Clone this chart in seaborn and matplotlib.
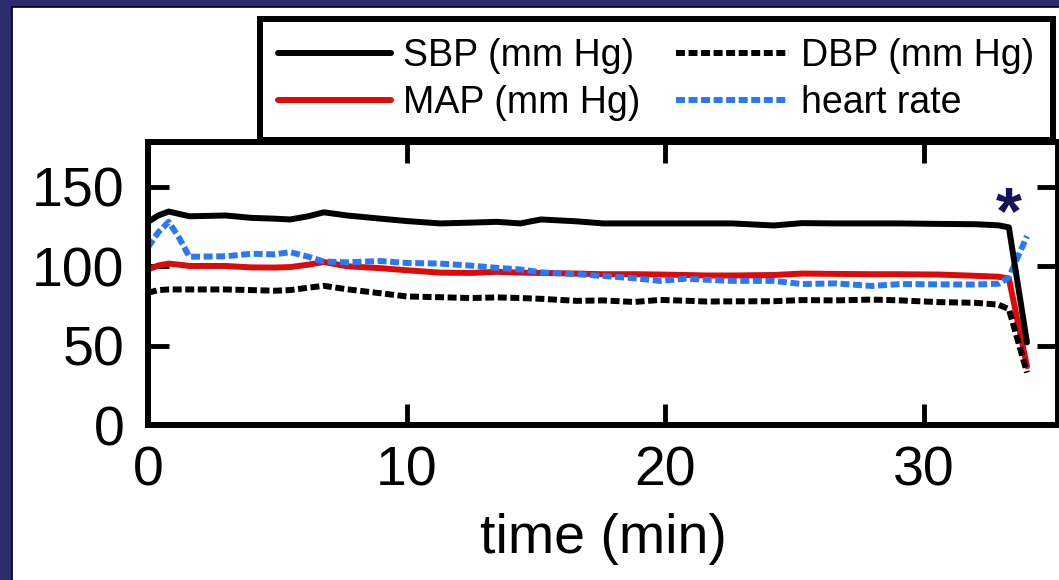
import numpy as np
import pandas as pd
import matplotlib
matplotlib.use("Agg")
import matplotlib.pyplot as plt
from matplotlib.patches import Rectangle
import seaborn as sns

# ---- data ----
time_min = [0, 0.4, 0.8, 1.2, 1.6, 3.0, 4.0, 4.9, 5.5, 6.2, 6.8, 7.7, 9.0, 10.0,
            11.3, 12.5, 13.5, 14.4, 15.2, 16.6, 17.6, 18.8, 19.8, 20.8, 21.6,
            22.6, 24.2, 25.3, 26.6, 28.0, 29.1, 30.6, 32.0, 32.9, 33.3, 34.0]
sbp = [128, 132, 134.5, 133, 131.5, 132, 130.5, 130, 129.5, 131.5, 134, 132,
       130, 128.5, 127, 127.5, 128, 127, 129.5, 128.3, 127, 127, 127, 127, 127,
       127, 125.7, 127.2, 127, 127, 127, 126.7, 126.5, 125.8, 124.5, 52]
map_ = [98, 100.5, 101.7, 101, 100.2, 100.2, 99.3, 99.2, 99.5, 101, 102.7, 100,
        98.8, 97.5, 96, 95.8, 96.5, 96, 95.8, 95.4, 95, 95, 94.8, 94.5, 94.2,
        94.2, 94.5, 95.4, 95.2, 95, 95, 94.8, 94, 93.4, 92.3, 37]
dbp = [83.3, 85, 85.4, 85.4, 85.4, 85.4, 85, 84.6, 85, 86.5, 87.7, 85.5, 83,
       81, 80.5, 80, 80.4, 80, 79.5, 78.2, 78.5, 77.5, 78.8, 78.3, 77.8, 77.9,
       78, 78.7, 78.5, 79, 78.5, 77.4, 77, 75.8, 73, 33]
heart_rate = [112, 121.5, 128, 118, 106, 106.3, 107.9, 107.5, 108.9, 106, 103,
              102.5, 103.3, 102.1, 101.7, 100.4, 99, 98, 96.2, 95, 93.9, 92.5,
              90.8, 92.2, 91.5, 90.8, 90.8, 88.8, 89.2, 87.6, 88.8, 88.6, 88.5,
              89, 93, 119]

labels = {"sbp": "SBP (mm Hg)", "dbp": "DBP (mm Hg)",
          "map": "MAP (mm Hg)", "hr": "heart rate"}
x_ticks = [0, 10, 20, 30]
y_ticks = [0, 50, 100, 150]
x_label = "time (min)"
marker_text = "*"
marker_pos = (33.3, 121)

# ---- style ----
sns.set_style("ticks")
plt.rcParams["font.family"] = ["Liberation Sans", "DejaVu Sans"]
plt.rcParams.update({"text.color": "black", "axes.labelcolor": "black",
                     "xtick.color": "black", "ytick.color": "black"})

W, H = 1059, 580
fig = plt.figure(figsize=(W / 100, H / 100), dpi=100)
navy = "#2a2c6e"
fig.patch.set_facecolor(navy)

# white slide panel
fig.patches.append(Rectangle((11.5 / W, -0.05), 1.1, 1.05 - 6.5 / H,
                             transform=fig.transFigure, facecolor="white",
                             edgecolor="black", linewidth=1.2, zorder=-5))

ax = fig.add_axes([148 / W, 1 - 425 / H, (1058 - 148) / W, (425 - 142) / H])
ax.set_facecolor("white")

lw = 4.3
dash = (0, (1.5, 0.6))
df = pd.DataFrame({"t": time_min, "sbp": sbp, "map": map_, "dbp": dbp,
                   "hr": heart_rate})

l_map = sns.lineplot(data=df, x="t", y="map", ax=ax, color="#dd0a0a",
                     linewidth=lw, label=labels["map"]).get_lines()[-1]
l_hr = sns.lineplot(data=df, x="t", y="hr", ax=ax, color="#2a78f5",
                    linewidth=lw, linestyle=dash,
                    label=labels["hr"]).get_lines()[-1]
l_dbp = sns.lineplot(data=df, x="t", y="dbp", ax=ax, color="black",
                     linewidth=lw, linestyle=dash,
                     label=labels["dbp"]).get_lines()[-1]
l_sbp = sns.lineplot(data=df, x="t", y="sbp", ax=ax, color="black",
                     linewidth=lw, label=labels["sbp"]).get_lines()[-1]

ax.set_xlim(0, 35.2)
ax.set_ylim(0, 178.3)
ax.set_xticks(x_ticks)
ax.set_yticks(y_ticks)
ax.set_xlabel(x_label, fontsize=40, labelpad=11, color="black")
ax.set_ylabel("")
for s in ax.spines.values():
    s.set_visible(True)
    s.set_linewidth(lw)
    s.set_color("black")
ax.tick_params(direction="in", top=True, right=True, length=15, width=3.5,
               labelsize=40, color="black", labelcolor="black")
ax.tick_params(axis="x", pad=15)
ax.tick_params(axis="y", pad=17)

ax.text(marker_pos[0], marker_pos[1], marker_text, fontsize=48,
        fontweight="bold", color="#14145a", ha="center", va="baseline")

leg = ax.legend([l_sbp, l_map, l_dbp, l_hr],
                [labels["sbp"], labels["map"], labels["dbp"], labels["hr"]],
                ncol=2, loc="upper left",
                bbox_to_anchor=(259.5 / W, 1 - 19 / H),
                bbox_transform=fig.transFigure, fontsize=27,
                handlelength=3.0, handletextpad=0.33, columnspacing=0.95,
                labelspacing=0.3, borderpad=0.5, borderaxespad=0,
                frameon=True, fancybox=False, framealpha=1,
                edgecolor="black")
leg.get_frame().set_linewidth(lw)
for t in leg.get_texts():
    t.set_color("black")

fig.savefig("out.png", dpi=100, facecolor=fig.get_facecolor())
